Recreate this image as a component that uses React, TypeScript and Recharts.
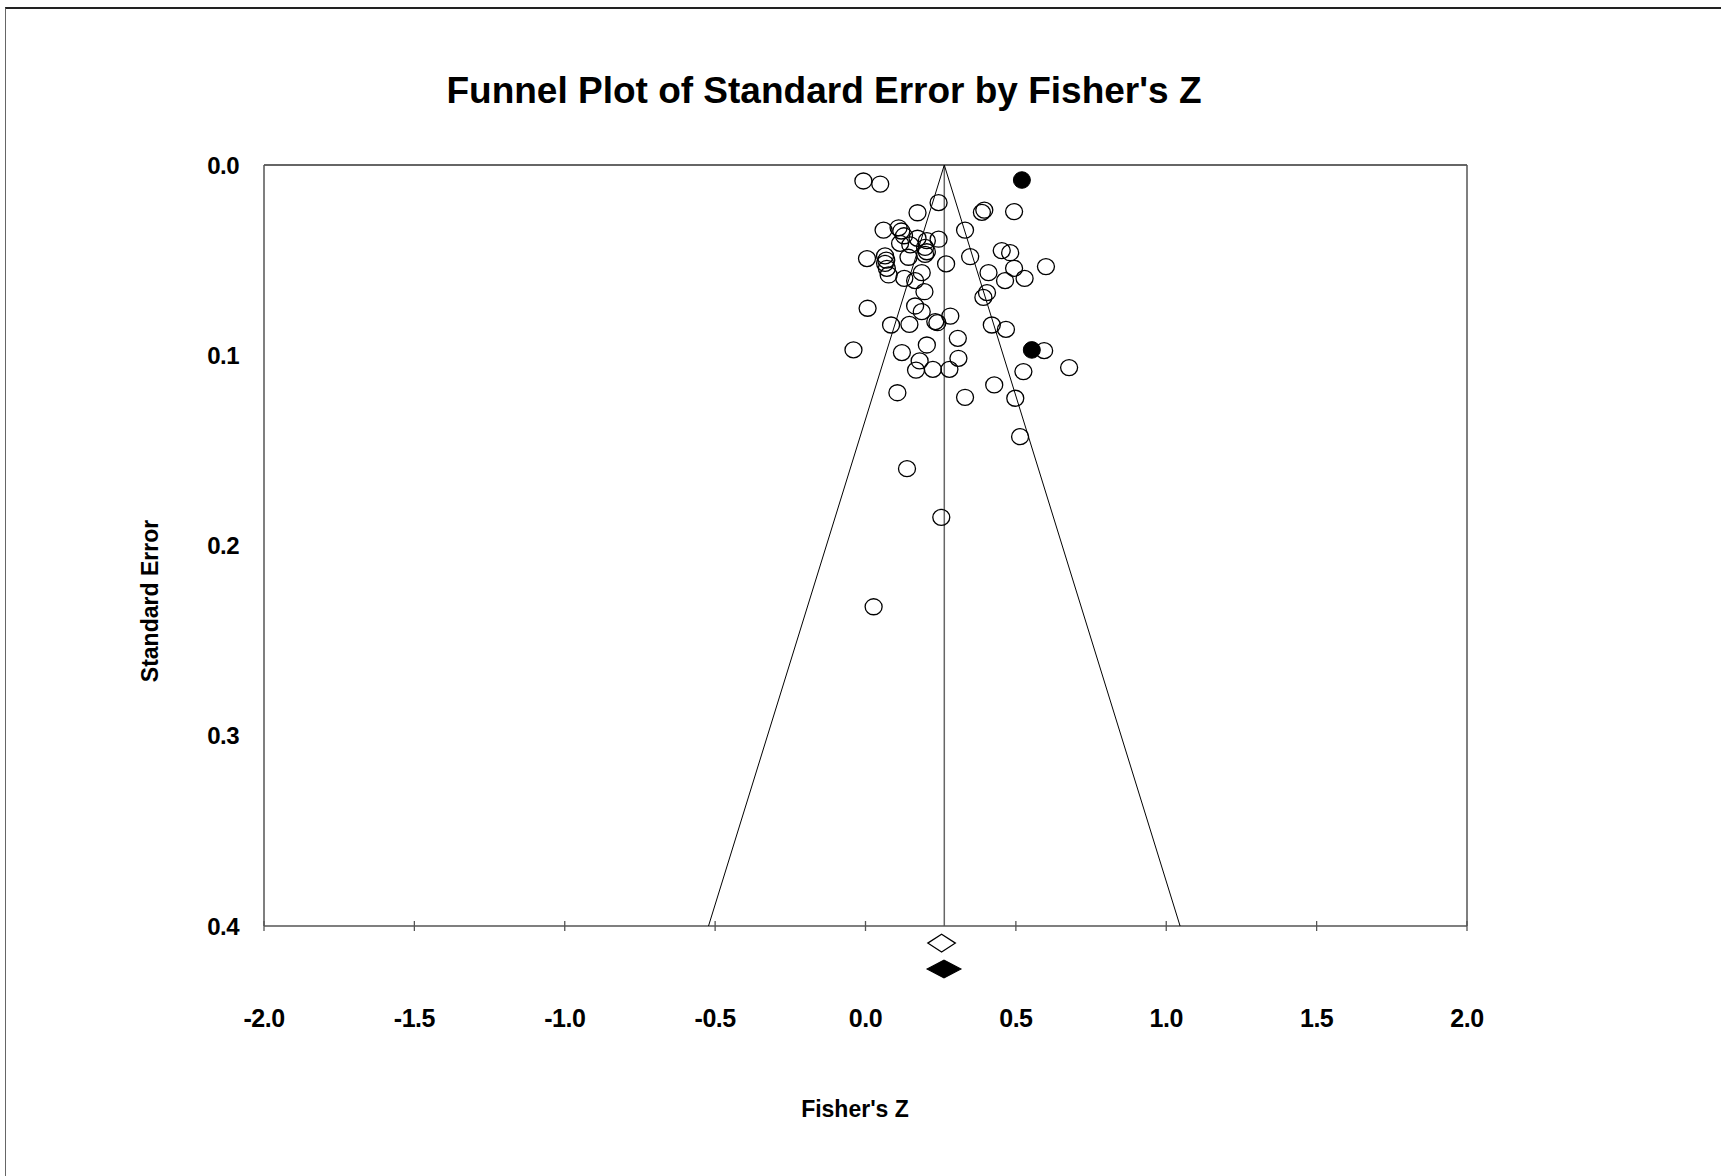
import { ComposedChart, Scatter, XAxis, YAxis, ReferenceLine, ReferenceArea } from "recharts";

// observed studies (Fisher's Z, standard error)
const studyZ = [
  -0.007, 0.049, 0.243, 0.173, 0.06, 0.11, 0.119, 0.128, 0.173, 0.204, 0.243, 0.115, 0.149, 0.198, 0.204,
  0.005, 0.065, 0.069, 0.065, 0.071, 0.077, 0.143, 0.198, 0.268, 0.331, 0.348, 0.129, 0.165, 0.187,
  0.387, 0.395, 0.494, 0.453, 0.481, 0.409, 0.494, 0.464, 0.529, 0.6,
  0.404, 0.392, 0.42, 0.467, 0.594, 0.525, 0.677, 0.428, 0.498,
  0.196, 0.007, 0.165, 0.187, 0.085, 0.146, 0.232, 0.239, 0.282, -0.04, 0.121, 0.204, 0.307, 0.18,
  0.168, 0.224, 0.279, 0.309, 0.106, 0.331,
  0.514, 0.138, 0.252, 0.027,
];
const studySE = [
  0.0084, 0.01, 0.0198, 0.0251, 0.0342, 0.033, 0.0347, 0.0372, 0.0385, 0.0398, 0.039, 0.0412, 0.042, 0.0433, 0.0456,
  0.0492, 0.0478, 0.05, 0.0517, 0.0543, 0.0578, 0.0485, 0.047, 0.052, 0.0342, 0.0482, 0.0596, 0.0608, 0.0566,
  0.0249, 0.0237, 0.0245, 0.045, 0.0461, 0.0566, 0.0543, 0.0608, 0.0596, 0.0534,
  0.0671, 0.0696, 0.0841, 0.0864, 0.0976, 0.1086, 0.1065, 0.1156, 0.1226,
  0.0666, 0.0753, 0.0741, 0.0771, 0.0841, 0.0838, 0.0823, 0.0829, 0.0794, 0.0972, 0.0986, 0.0946, 0.0911, 0.103,
  0.1078, 0.1074, 0.1074, 0.1016, 0.1197, 0.1221,
  0.1428, 0.1596, 0.1852, 0.2322,
];

// imputed studies (filled)
const imputedZ = [0.52, 0.553];
const imputedSE = [0.0079, 0.0972];

const xTicks = [-2, -1.5, -1, -0.5, 0, 0.5, 1, 1.5, 2];
const yTicks = [0, 0.1, 0.2, 0.3, 0.4];

const meanZ = 0.262;
const funnelZ = [-0.522, 0.262, 1.046];
const funnelSE = [0.4, 0, 0.4];

// summary diamonds drawn under the axis: [lower, upper], row
const adjustedCI = [0.207, 0.299];
const adjustedRow = 0.409;
const observedCI = [0.205, 0.317];
const observedRow = 0.4226;
const diamondHalf = 0.0047;

const studies = studyZ.map((z, i) => ({ z, se: studySE[i] }));
const imputed = imputedZ.map((z, i) => ({ z, se: imputedSE[i] }));
const funnel = funnelZ.map((z, i) => ({ z, se: funnelSE[i] }));

const FONT = '"Liberation Sans", Arial, sans-serif';
const AXIS = "#555";

const OpenDot = (props: any) => (
  <ellipse cx={props.cx} cy={props.cy} rx={8.5} ry={8} fill="none" stroke="#000" strokeWidth={1.3} />
);
const FilledDot = (props: any) => (
  <ellipse cx={props.cx} cy={props.cy} rx={8.5} ry={8.3} fill="#000" stroke="#000" strokeWidth={1} />
);

const diamond = (filled: boolean) => (props: any) => {
  const { x, y, width, height } = props;
  const pts = `${x},${y + height / 2} ${x + width / 2},${y} ${x + width},${y + height / 2} ${x + width / 2},${y + height}`;
  return <polygon points={pts} fill={filled ? "#000" : "#fff"} stroke="#000" strokeWidth={1.2} />;
};

const XTick = (props: any) => {
  const { x, y, payload } = props;
  return (
    <g>
      <line x1={x} x2={x} y1={y - 5} y2={y + 5} stroke={AXIS} strokeWidth={1.3} />
      <text x={x} y={y + 101} textAnchor="middle" fill="#000" fontSize={25} fontWeight="bold" fontFamily={FONT} letterSpacing={-0.5}>
        {Number(payload.value).toFixed(1)}
      </text>
    </g>
  );
};

export default function App() {
  return (
    <div style={{ position: "fixed", left: 0, top: 0, width: 1721, height: 1176, overflow: "hidden", background: "#fff" }}>
      <div
        style={{
          position: "absolute",
          left: 5,
          top: 7,
          width: 1730,
          height: 1200,
          borderTop: "2px solid #222",
          borderLeft: "1.5px solid #666",
        }}
      />
      <div style={{ position: "absolute", left: 0, top: 0 }}>
        <ComposedChart width={1721} height={1176} margin={{ top: 165, right: 254, bottom: 150, left: 204 }}>
          <XAxis
            type="number"
            dataKey="z"
            domain={[-2, 2]}
            ticks={xTicks}
            height={100}
            tickSize={0}
            tickMargin={0}
            tickLine={false}
            tick={<XTick />}
            axisLine={{ stroke: AXIS, strokeWidth: 1.5 }}
            interval={0}
          />
          <YAxis
            type="number"
            dataKey="se"
            domain={[0, 0.4]}
            reversed
            ticks={yTicks}
            width={60}
            tickSize={0}
            tickMargin={25}
            tickLine={false}
            tickFormatter={(v: number) => v.toFixed(1)}
            tick={{ fill: "#000", fontSize: 24, fontWeight: "bold", fontFamily: FONT, letterSpacing: -0.5 }}
            axisLine={{ stroke: AXIS, strokeWidth: 1.5 }}
            interval={0}
          />
          <ReferenceLine y={0} stroke="#666" strokeWidth={2} />
          <ReferenceLine x={2} stroke={AXIS} strokeWidth={1.5} />
          <ReferenceLine x={meanZ} stroke="#666" strokeWidth={1.5} />
          <Scatter data={funnel} line={{ stroke: "#000", strokeWidth: 1 }} shape={() => <g />} isAnimationActive={false} />
          <Scatter data={studies} shape={OpenDot} isAnimationActive={false} />
          <Scatter data={imputed} shape={FilledDot} isAnimationActive={false} />
          <ReferenceArea
            x1={adjustedCI[0]}
            x2={adjustedCI[1]}
            y1={adjustedRow - diamondHalf}
            y2={adjustedRow + diamondHalf}
            ifOverflow="visible"
            shape={diamond(false)}
          />
          <ReferenceArea
            x1={observedCI[0]}
            x2={observedCI[1]}
            y1={observedRow - diamondHalf}
            y2={observedRow + diamondHalf}
            ifOverflow="visible"
            shape={diamond(true)}
          />
        </ComposedChart>
      </div>
      <svg width={1721} height={1176} style={{ position: "absolute", left: 0, top: 0, pointerEvents: "none" }}>
        <text x={824} y={103} textAnchor="middle" fontSize={37} fontWeight="bold" fontFamily={FONT}>
          Funnel Plot of Standard Error by Fisher's Z
        </text>
        <text
          x={158}
          y={601}
          textAnchor="middle"
          fontSize={23}
          fontWeight="bold"
          fontFamily={FONT}
          transform="rotate(-90, 158, 601)"
        >
          Standard Error
        </text>
        <text x={855} y={1117} textAnchor="middle" fontSize={23} fontWeight="bold" fontFamily={FONT}>
          Fisher's Z
        </text>
      </svg>
    </div>
  );
}
